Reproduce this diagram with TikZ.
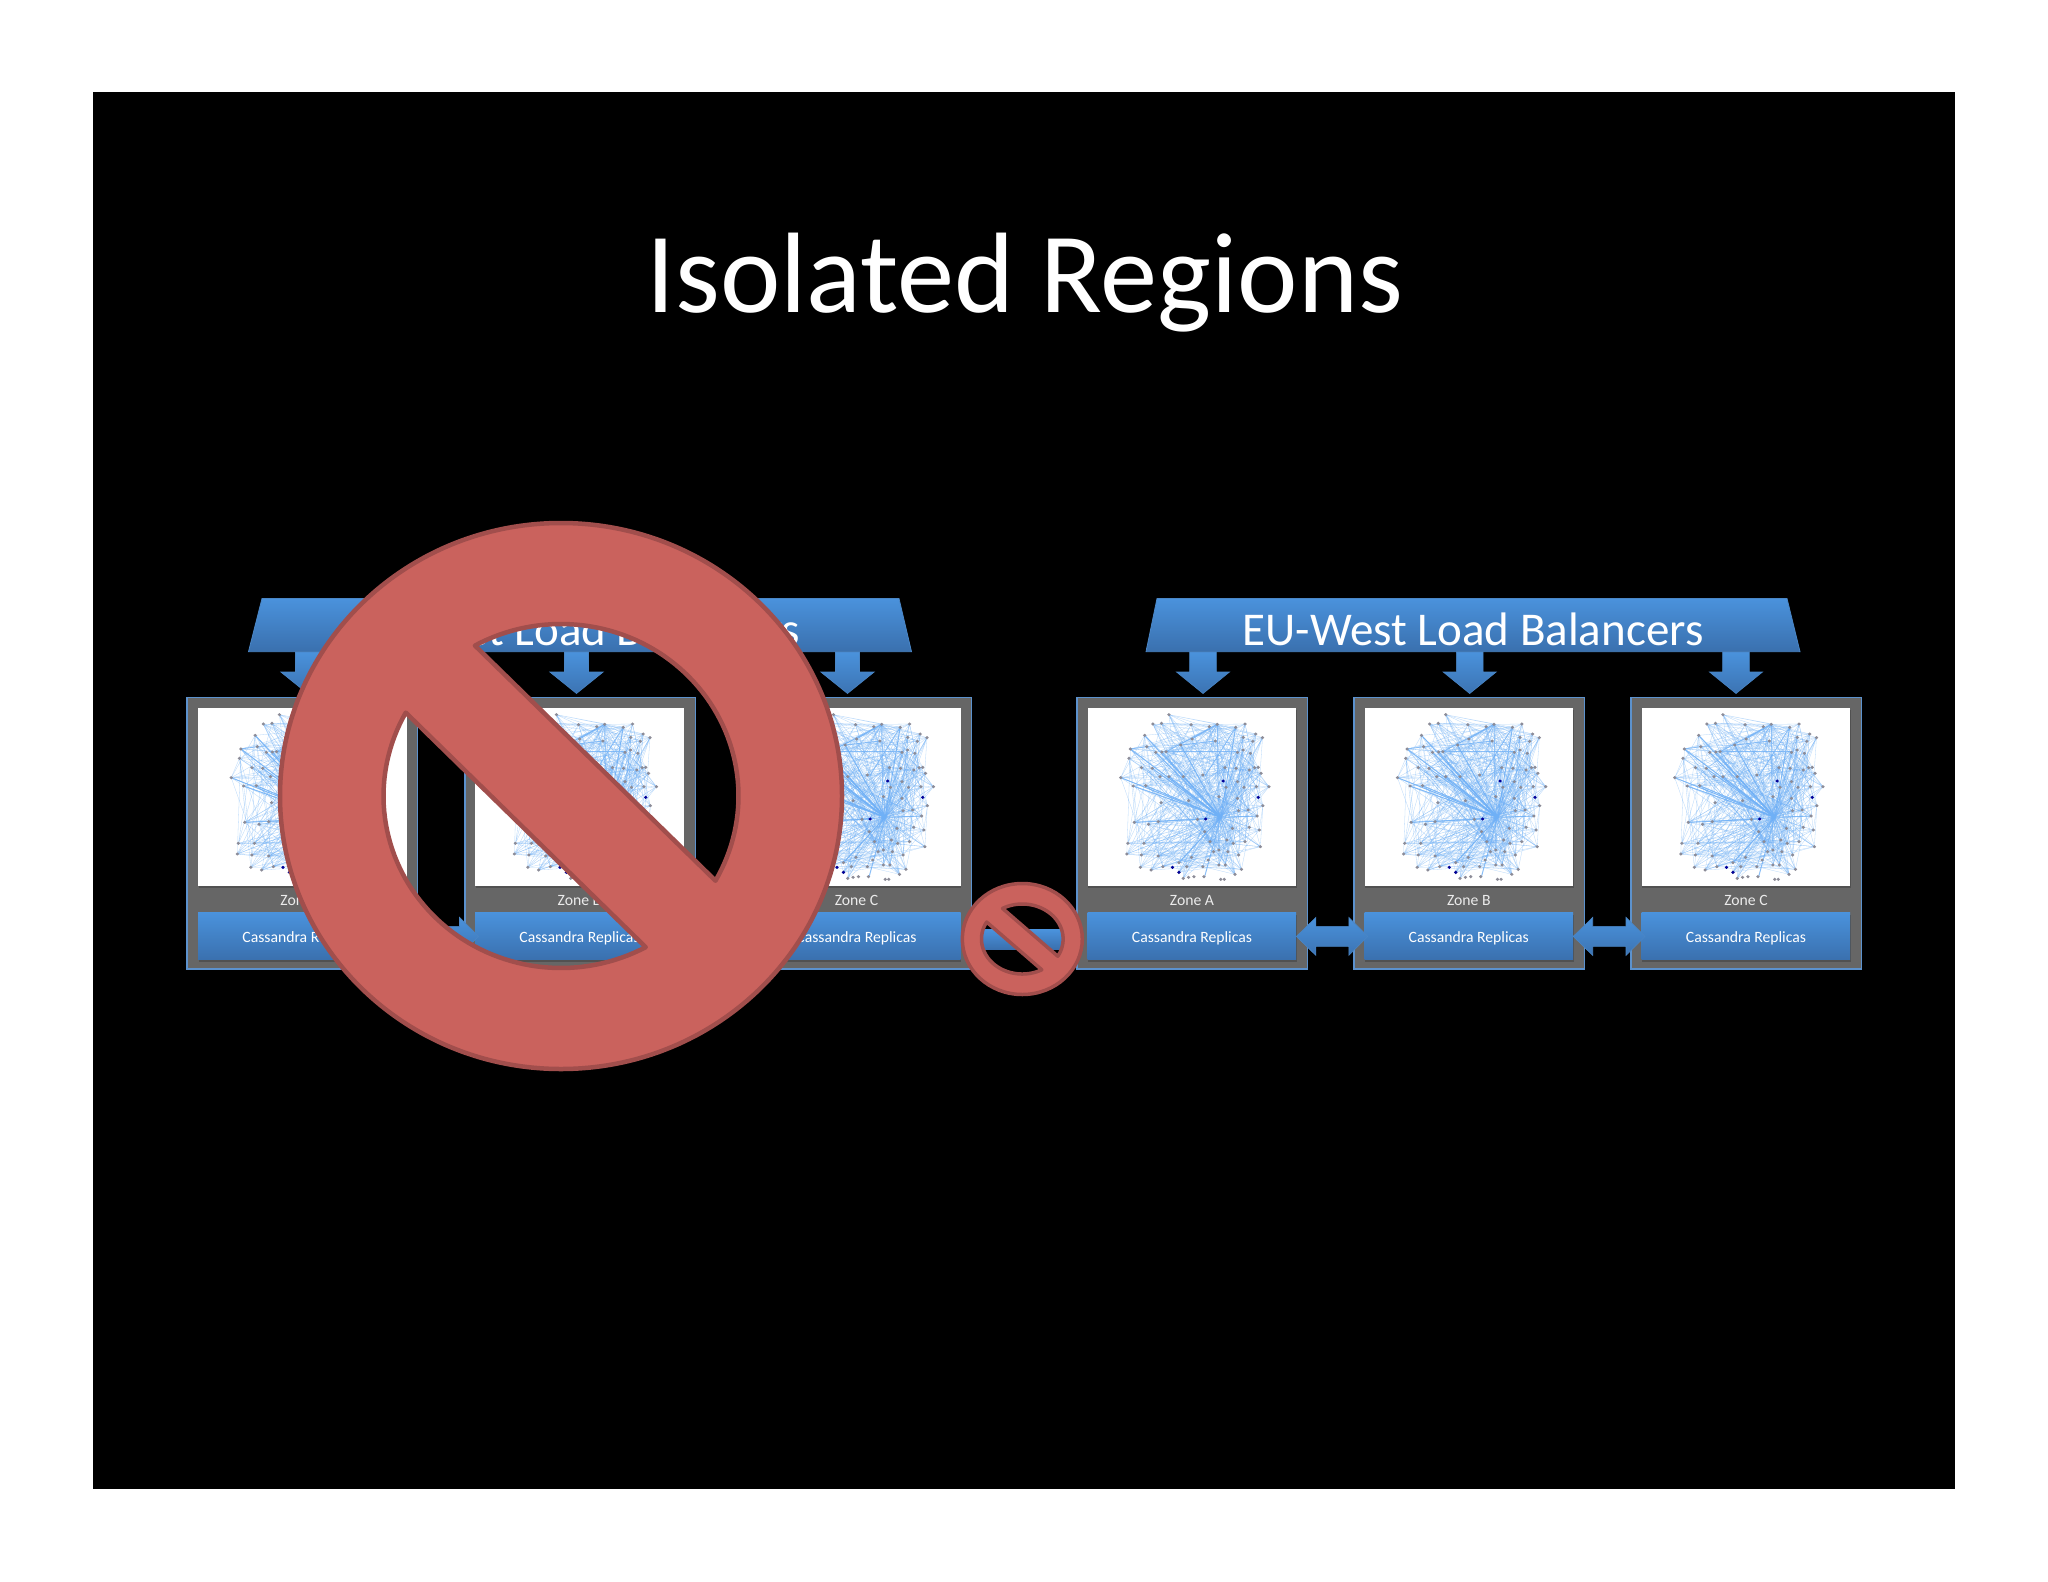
\documentclass[tikz,border=0pt]{standalone}
\usepackage{fontspec}
\setmainfont{Carlito}
\usetikzlibrary{calc,shadows}
\definecolor{blueTop}{HTML}{4A92DC}
\definecolor{blueBot}{HTML}{3A70AE}
\definecolor{blueEdge}{HTML}{4A86C6}
\definecolor{zoneFill}{HTML}{666666}
\definecolor{zoneEdge}{HTML}{5C92CE}
\definecolor{noFill}{HTML}{CA625D}
\definecolor{noEdge}{HTML}{A14E4C}
\definecolor{netLine}{HTML}{6FB0F6}
\definecolor{netDot}{HTML}{8C8C98}
\def\gpts{260/432,284/430,305/404,367/434,418/440,440/433,492/442,518/432,548/462,567/473,237/466,197/507,243/500,268/517,285/516,297/515,338/495,370/477,435/483,513/472,540/484,497/517,513/510,533/520,193/535,228/563,258/565,170/593,205/618,240/617,280/590,305/590,345/590,400/585,462/563,493/565,530/570,545/563,555/562,563/580,497/605,585/620,465/622,515/622,550/620,283/668,360/662,445/650,497/655,568/677,500/692,527/690,552/708,385/718,208/727,248/733,275/725,405/755,483/745,530/742,558/750,190/790,235/790,420/785,467/780,485/790,518/785,561/800,187/822,228/825,275/828,333/848,368/832,430/815,445/810,470/815,500/825,225/862,255/870,288/860,333/877,355/860,400/860,445/855,463/855,508/868,490/883,345/895,360/892,375/890,403/890,450/898,460/898,415/840}
\tikzset{
  zonebox/.style={draw=zoneEdge,line width=1.8pt,fill=zoneFill,minimum width=230.5pt,minimum height=271.5pt,inner sep=0pt,anchor=north west},
  panelbox/.style={fill=white,minimum width=208.5pt,minimum height=178pt,inner sep=0pt,anchor=north west,drop shadow={shadow xshift=.6pt,shadow yshift=-2pt,opacity=.2,fill=black}},
  replicabox/.style={top color=blueTop,bottom color=blueBot,minimum width=208.5pt,minimum height=47pt,inner sep=0pt,anchor=north west,text=white,text height=13pt,text depth=0pt,font=\fontsize{15.7}{18}\selectfont,drop shadow={shadow xshift=.6pt,shadow yshift=-2pt,opacity=.2,fill=black}},
  zonelabel/.style={text=white!92!black,font=\fontsize{15.7}{18}\selectfont,inner sep=0pt},
  bannertext/.style={text=white,font=\fontsize{47}{50}\selectfont,inner sep=0pt,anchor=base},
  titletext/.style={text=white,font=\fontsize{114.4}{120}\selectfont,inner sep=0pt,anchor=base},
  blockarrow/.style={top color=blueTop,bottom color=blueBot!90!blueTop,draw=blueEdge,line width=.6pt},
  bannershape/.style={top color=blueTop,bottom color=blueBot,draw=blueEdge,line width=.8pt},
  nosignshape/.style={fill=noFill,draw=noEdge,even odd rule,line join=round}
}
% network picture; #1 = horizontal offset
\newcommand{\netgraph}[1]{%
  \begin{scope}[xshift=#1pt,yshift=-580pt,x=0.35714pt,y=-0.33333pt]
    \foreach \x/\y [count=\i] in \gpts {\coordinate (g\i) at (\x,\y);}
    \foreach \i in {1,...,88}{%
      \pgfmathtruncatemacro{\ja}{mod(\i*17,87)+1}%
      \pgfmathtruncatemacro{\jb}{mod(\i*29+5,87)+1}%
      \pgfmathtruncatemacro{\jc}{mod(\i+3,87)+1}%
      \pgfmathtruncatemacro{\jd}{mod(\i*41+11,87)+1}%
      \pgfmathtruncatemacro{\je}{mod(\i*7+2,87)+1}%
      \draw[netLine,line width=.3pt,opacity=.5] (g\i) -- (g\ja) (g\i) -- (g\jb) (g\i) -- (g\jc) (g\i) -- (g\jd) (g\i) -- (g\je);
      \draw[netLine,line width=.4pt,opacity=.55] (450,712) -- (g\i);
    }
    \foreach \x/\y in {170/593,205/618,240/617,197/507,237/466,268/517,285/516,258/565,305/590,338/495,333/848,405/890}
      {\draw[netLine,line width=1pt,opacity=.8] (450,712) -- (\x,\y);}
    \draw[netLine,line width=.9pt,opacity=.8] (297,515) -- (440,433) (338,495) -- (435,483) (370,477) -- (440,433) (492,442) -- (405,590) (208,727) -- (408,717) (450,712) -- (552,708) (492,442) -- (450,712) (197,507) -- (243,500) (300,515) -- (500,515);
    \foreach \x/\y in \gpts {\fill[netDot] (\x,\y) circle[radius=5];}
    \foreach \x/\y in {457/603,555/652,408/717,333/877,315/862} {\fill[blue!60!black] (\x,\y) circle[radius=5];}
  \end{scope}}
% zone: #1 name, #2 box left, #3 panel left, #4 label
\newcommand{\zone}[4]{%
  \node[zonebox] (zone#1) at (#2,696.5) {};
  \node[panelbox] (panel#1) at (#3,708) {};
  \node[zonelabel] (label#1) at (#3+104.5,900.5) {#4};
  \node[replicabox] (rep#1) at (#3,912.7) {Cassandra Replicas};
}
% double block arrow between two replica boxes
\newcommand{\dblarrow}[2]{%
  \shade[blockarrow] (#1.east) -- ($(#1.east)+(19.5,-19)$) -- ($(#1.east)+(19.5,-10)$) -- ($(#2.west)+(-15.5,-10)$) -- ($(#2.west)+(-15.5,-19)$) -- ($(#2.west)+(3.5,0)$) -- ($(#2.west)+(-15.5,19)$) -- ($(#2.west)+(-15.5,10)$) -- ($(#1.east)+(19.5,10)$) -- ($(#1.east)+(19.5,19)$) -- cycle;
}
% down arrow: #1 tip coordinate name, #2 half shaft, #3 half head
\newcommand{\downblock}[3]{%
  \shade[blockarrow] ($(#1)+(-#2,-41.5)$) -- ($(#1)+(#2,-41.5)$) -- ($(#1)+(#2,-21.5)$) -- ($(#1)+(#3,-21.5)$) -- (#1) -- ($(#1)+(-#3,-21.5)$) -- ($(#1)+(-#2,-21.5)$) -- cycle;
}
% prohibition sign: cx, cy, rx, ry, hole rx, hole ry, line width
\newcommand{\nosign}[7]{%
  \path[nosignshape,line width=#7pt] (#1,#2) ellipse[x radius=#3pt,y radius=#4pt]
    plot[variable=\t,domain=-119:29.5,samples=70] ({#1+#5*cos(\t)},{#2+#6*sin(\t)}) -- cycle
    plot[variable=\t,domain=61.5:209,samples=70] ({#1+#5*cos(\t)},{#2+#6*sin(\t)}) -- cycle;
}
\begin{document}
\begin{tikzpicture}[x=1pt,y=-1pt]
  \useasboundingbox (0,0) rectangle (2048,1582);
  \fill[white] (0,0) rectangle (2048,1582);
  \fill[black] (93,92) rectangle (1955,1489);
  \node[titletext] (title) at (1025,312.5) {Isolated Regions};

  % left region
  \zone{la}{186}{198}{Zone A}
  \zone{lb}{464}{475}{Zone B}
  \zone{lc}{740}{752}{Zone C}
  \netgraph{170.5}
  \netgraph{447.5}
  \netgraph{724.5}
  \dblarrow{repla}{replb}
  \dblarrow{replb}{replc}

  % right region
  \zone{ea}{1076}{1087.5}{Zone A}
  \zone{eb}{1353}{1364.3}{Zone B}
  \zone{ec}{1630}{1641.5}{Zone C}
  \netgraph{1060}
  \netgraph{1336.8}
  \netgraph{1614}
  \dblarrow{repea}{repeb}
  \dblarrow{repeb}{repec}

  % link between regions
  \node[top color=blueTop,bottom color=blueBot,minimum width=110pt,minimum height=19.5pt,inner sep=0pt] (link) at (1024,939.5) {};

  % load balancer banners
  \shade[bannershape] (262,598.5) -- (899,598.5) -- (911.5,651.7) -- (248.5,651.7) -- cycle;
  \node[bannertext] (usbanner) at (580,645) {US-East Load Balancers};
  \shade[bannershape] (1157,598.5) -- (1787,598.5) -- (1800,651.7) -- (1146,651.7) -- cycle;
  \node[bannertext] (eubanner) at (1473,645) {EU-West Load Balancers};

  \coordinate (tipla) at (307.5,693.5);
  \coordinate (tiplb) at (576.5,693.5);
  \coordinate (tiplc) at (847.5,693.5);
  \coordinate (tipea) at (1203,693.5);
  \coordinate (tipeb) at (1469.7,693.5);
  \coordinate (tipec) at (1736,693.5);
  \downblock{tipla}{12}{26.7}
  \downblock{tiplb}{12}{26.7}
  \downblock{tiplc}{12}{26.7}
  \downblock{tipea}{13.4}{26.5}
  \downblock{tipeb}{13.4}{26.5}
  \downblock{tipec}{13.4}{26.5}

  % prohibition signs
  \nosign{561}{796}{281}{273}{177.5}{172}{4.5}
  \nosign{1022.3}{939}{60}{55.5}{40.8}{35}{3.5}
\end{tikzpicture}
\end{document}
